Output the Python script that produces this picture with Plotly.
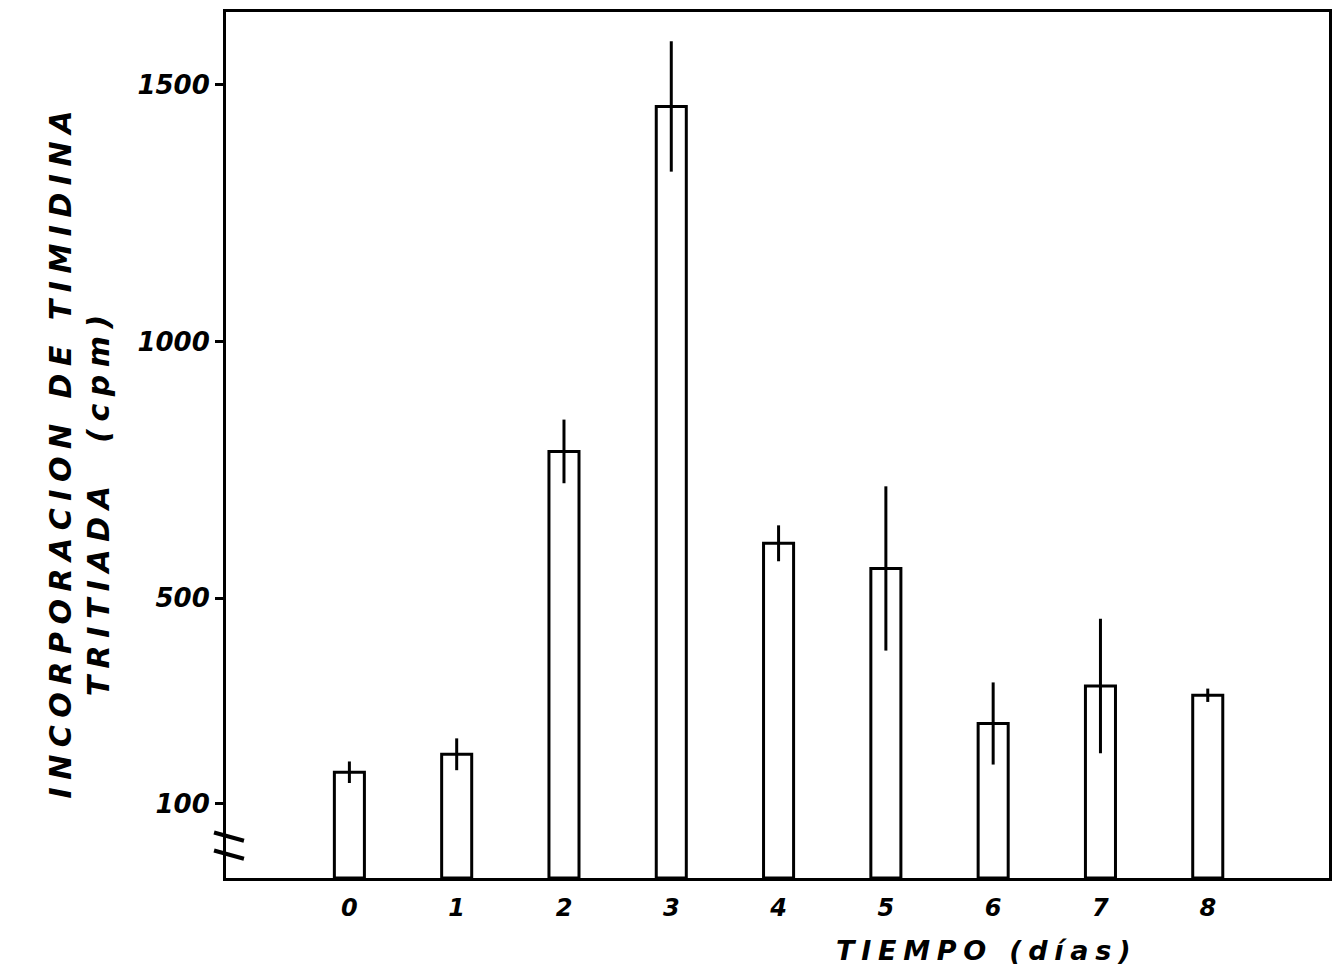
import plotly.graph_objects as go

# Days after treatment
dias = [0, 1, 2, 3, 4, 5, 6, 7, 8]
# Mean tritiated thymidine incorporation (cpm)
cpm = [161, 196, 786, 1458, 607, 558, 256, 329, 311]
# Spread shown by the vertical error lines (cpm)
error = [21, 31, 62, 127, 35, 160, 80, 131, 13]

y_ticks = [100, 500, 1000, 1500]
x_ticks = dias

Y_MIN, Y_MAX = -45, 1642
X_MIN, X_MAX = -1.15, 9.13
BREAK_AT = 18  # where the axis-break marks sit on the y axis


def spaced(text, gap="\u2005"):
    # hand-lettered look: open up the letter spacing
    return gap.join(text)


font_hand = dict(family="DejaVu Sans", color="black", style="italic", weight="bold")

fig = go.Figure()
fig.add_trace(go.Bar(
    x=dias,
    y=[v - Y_MIN for v in cpm],
    base=Y_MIN,
    width=0.28,
    marker=dict(color="white", line=dict(color="black", width=3)),
    error_y=dict(type="data", array=error, visible=True,
                 color="black", thickness=3, width=0),
    showlegend=False,
))

fig.update_layout(
    width=1341, height=980,
    margin=dict(l=226, r=9, t=12, b=102),
    paper_bgcolor="white", plot_bgcolor="white",
    xaxis=dict(
        range=[X_MIN, X_MAX], tickvals=x_ticks,
        ticktext=[str(t) for t in x_ticks],
        showgrid=False, zeroline=False, ticks="",
        showline=True, linecolor="black", linewidth=3, mirror=True,
        tickfont=dict(size=24, **font_hand), ticklabelstandoff=6,
    ),
    yaxis=dict(
        range=[Y_MIN, Y_MAX], tickvals=y_ticks,
        ticktext=[str(t) for t in y_ticks],
        showgrid=False, zeroline=False, ticks="outside", ticklen=8,
        tickwidth=3, tickcolor="black",
        showline=True, linecolor="black", linewidth=3, mirror=True,
        tickfont=dict(size=26, **font_hand),
    ),
)

PW, PH = 1341 - 226 - 9, 980 - 12 - 102

# Axis titles
fig.add_annotation(
    text=spaced("TIEMPO (días)"), xref="paper", yref="paper",
    x=(985 - 226) / PW, y=-(950 - 878) / PH,
    showarrow=False, xanchor="center", yanchor="middle",
    font=dict(size=27, **font_hand),
)
fig.add_annotation(
    text=spaced("INCORPORACION DE TIMIDINA"), xref="paper", yref="paper",
    x=-(226 - 60) / PW, y=(878 - 454) / PH,
    textangle=-90, showarrow=False, xanchor="center", yanchor="middle",
    font=dict(size=30, **font_hand),
)
fig.add_annotation(
    text=spaced("TRITIADA  (cpm)"), xref="paper", yref="paper",
    x=-(226 - 98) / PW, y=(878 - 505) / PH,
    textangle=-90, showarrow=False, xanchor="center", yanchor="middle",
    font=dict(size=30, **font_hand),
)

# Axis break marks on the y axis
for dy in (-9, 9):
    fig.add_shape(
        type="line", xref="paper", yref="y",
        x0=-12 / PW, x1=18 / PW,
        y0=BREAK_AT + dy / 0.5133 + 8, y1=BREAK_AT + dy / 0.5133 - 8,
        line=dict(color="black", width=4),
    )

fig.write_html("out.html")
